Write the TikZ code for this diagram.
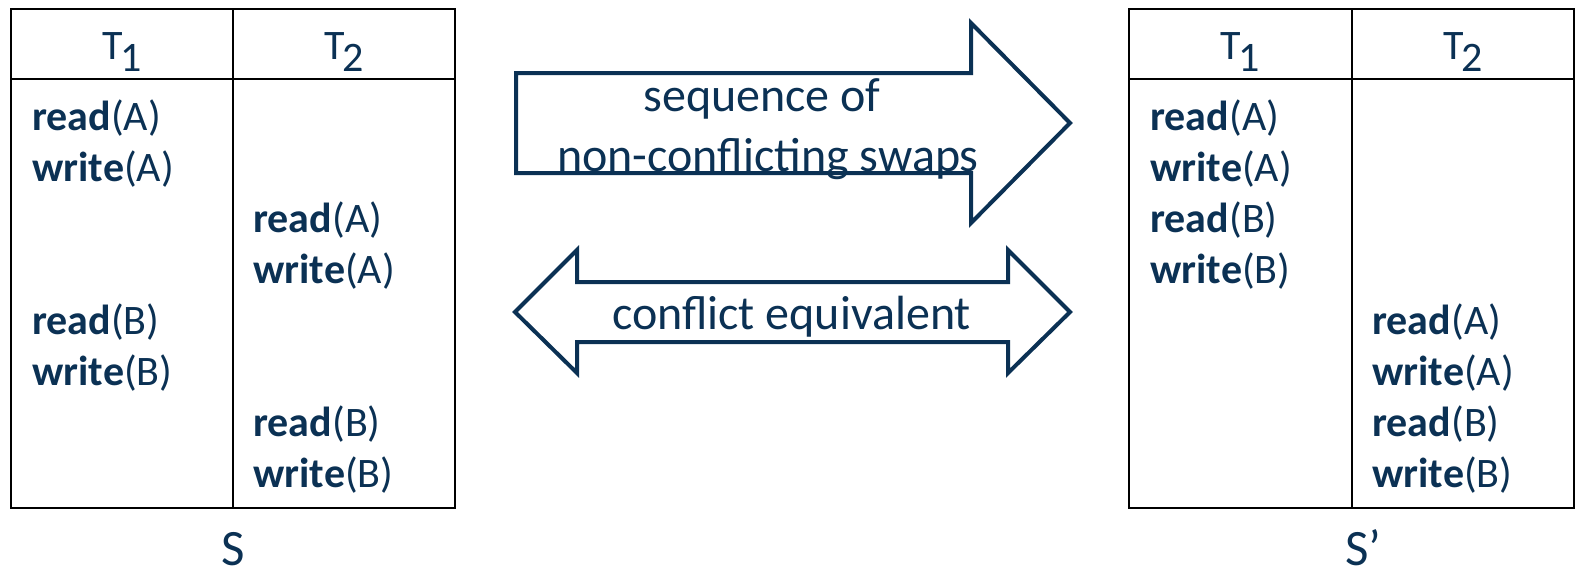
\documentclass[tikz,border=0pt]{standalone}
\usepackage{fontspec}
\setmainfont{Carlito}
\definecolor{navy}{RGB}{11,49,84}
% one operation of a transaction: bold verb, plain argument
\newcommand{\txop}[2]{\textbf{#1}(#2)}
% transaction name with a lowered index
\newcommand{\txname}[1]{T\kern-1pt\raisebox{-6.2pt}{#1}}
\begin{document}
\begin{tikzpicture}[x=0.5pt,y=-0.5pt,
  grid/.style={draw=black,line width=1.2pt},
  opcell/.style={anchor=base west,inner sep=0pt,text=navy,font=\fontsize{21}{25}\selectfont},
  headcell/.style={anchor=base,inner sep=0pt,text=navy,font=\fontsize{21}{25}\selectfont},
  schedname/.style={anchor=base,inner sep=0pt,text=navy,font=\fontsize{25.5}{30}\selectfont},
  arrowtext/.style={anchor=base,inner sep=0pt,text=navy,font=\fontsize{24}{29}\selectfont},
  bigarrow/.style={draw=navy,line width=2pt,line join=miter,fill=white}]
\useasboundingbox (0,0) rectangle (1575,573);

% ---- schedule S ----
\draw[grid] (11,9) rectangle (455,508);
\draw[grid] (233,9) -- (233,508);
\draw[grid] (11,79) -- (455,79);
\node[headcell] (sT1) at (122,59) {\txname{1}};
\node[headcell] (sT2) at (344,59) {\txname{2}};
\node[opcell] (s1) at (32,130)    {\txop{read}{A}};
\node[opcell] (s2) at (32,181.1)  {\txop{write}{A}};
\node[opcell] (s3) at (253,232.2) {\txop{read}{A}};
\node[opcell] (s4) at (253,283.3) {\txop{write}{A}};
\node[opcell] (s5) at (32,334.4)  {\txop{read}{B}};
\node[opcell] (s6) at (32,385.5)  {\txop{write}{B}};
\node[opcell] (s7) at (253,436.6) {\txop{read}{B}};
\node[opcell] (s8) at (253,487.7) {\txop{write}{B}};
\node[schedname] (sName) at (233,565) {S};

% ---- schedule S' ----
\draw[grid] (1129,9) rectangle (1574,508);
\draw[grid] (1352,9) -- (1352,508);
\draw[grid] (1129,79) -- (1574,79);
\node[headcell] (pT1) at (1240,59) {\txname{1}};
\node[headcell] (pT2) at (1463,59) {\txname{2}};
\node[opcell] (p1) at (1150,130)    {\txop{read}{A}};
\node[opcell] (p2) at (1150,181.1)  {\txop{write}{A}};
\node[opcell] (p3) at (1150,232.2)  {\txop{read}{B}};
\node[opcell] (p4) at (1150,283.3)  {\txop{write}{B}};
\node[opcell] (p5) at (1372,334.4)  {\txop{read}{A}};
\node[opcell] (p6) at (1372,385.5)  {\txop{write}{A}};
\node[opcell] (p7) at (1372,436.6)  {\txop{read}{B}};
\node[opcell] (p8) at (1372,487.7)  {\txop{write}{B}};
\node[schedname] (pName) at (1363,565) {S’};

% ---- block arrow: swaps ----
\draw[bigarrow] (516,73) -- (971,73) -- (971,23) -- (1070,123) -- (971,223)
  -- (971,173) -- (516,173) -- cycle;
\node[arrowtext] (swap1) at (762,111) {sequence of};
\node[arrowtext] (swap2) at (768,171.5) {non-conflicting swaps};

% ---- double block arrow: equivalence ----
\draw[bigarrow] (515,312) -- (577,250) -- (577,282) -- (1008,282) -- (1008,250)
  -- (1070,312) -- (1008,373) -- (1008,342) -- (577,342) -- (577,373) -- cycle;
\node[arrowtext] (equiv) at (791.5,329) {conflict equivalent};
\end{tikzpicture}
\end{document}
